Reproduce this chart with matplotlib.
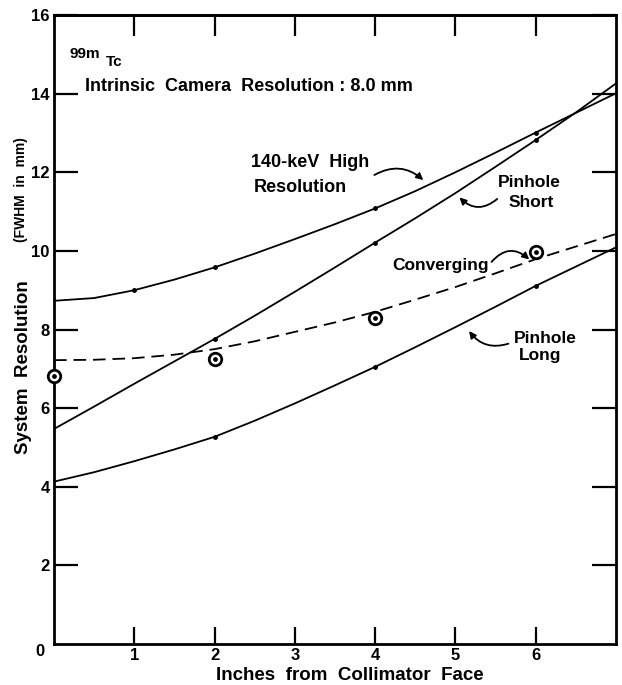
import matplotlib
matplotlib.use("Agg")
import matplotlib.pyplot as plt

# ---- data ----
x_in = [0, 0.5, 1, 1.5, 2, 2.5, 3, 3.5, 4, 4.5, 5, 5.5, 6, 6.5, 7]
high_res = [8.73, 8.80, 9.00, 9.27, 9.58, 9.93, 10.30, 10.68, 11.08, 11.52,
            12.00, 12.50, 13.01, 13.51, 14.01]
pinhole_short = [5.47, 6.04, 6.62, 7.19, 7.76, 8.35, 8.96, 9.58, 10.21, 10.83,
                 11.47, 12.14, 12.82, 13.52, 14.26]
pinhole_long = [4.13, 4.37, 4.65, 4.95, 5.27, 5.68, 6.12, 6.58, 7.05, 7.55,
                8.06, 8.58, 9.11, 9.60, 10.09]
converging = [7.22, 7.23, 7.27, 7.36, 7.50, 7.70, 7.94, 8.18, 8.45, 8.76,
              9.08, 9.43, 9.79, 10.11, 10.43]
conv_meas_x = [0, 2, 4, 6]
conv_meas_y = [6.82, 7.24, 8.30, 9.98]
xticks = [1, 2, 3, 4, 5, 6]
yticks = [2, 4, 6, 8, 10, 12, 14, 16]

FONT = ["Liberation Sans", "DejaVu Sans"]
plt.rcParams["font.family"] = FONT
plt.rcParams["font.weight"] = "bold"

W, H = 622, 685
fig = plt.figure(figsize=(W / 100, H / 100), dpi=100)
ax = fig.add_axes([54 / W, 41 / H, (616 - 54) / W, (644 - 15) / H])
ax.set_xlim(0, 7.0)
ax.set_ylim(0, 16)

lw = 1.3
ax.plot(x_in, high_res, color="black", lw=lw, marker="o", ms=2.5,
        markevery=[2, 4, 8, 12])
ax.plot(x_in, pinhole_short, color="black", lw=lw, marker="o", ms=2.5,
        markevery=[4, 8, 12])
ax.plot(x_in, pinhole_long, color="black", lw=lw, marker="o", ms=2.5,
        markevery=[4, 8, 12])
ax.plot(x_in, converging, color="black", lw=lw, linestyle=(0, (7, 3.8)))
ax.plot(conv_meas_x, conv_meas_y, linestyle="none", marker="o", ms=9,
        mfc="white", mec="black", mew=2.0, clip_on=False, zorder=5)
ax.plot(conv_meas_x, conv_meas_y, linestyle="none", marker="o", ms=2.4,
        color="black", clip_on=False, zorder=6)

for s in ax.spines.values():
    s.set_linewidth(2.0)

ax.set_xticks(xticks)
ax.set_xticklabels([str(t) for t in xticks])
ax.set_yticks(yticks)
ax.set_yticklabels([str(t) for t in yticks])
ax.tick_params(axis="y", direction="in", length=17, width=1.6, left=True,
               right=True, labelsize=12, pad=3)
ax.tick_params(axis="x", direction="in", length=12, width=1.6, bottom=True,
               top=False, labelsize=12, pad=3)
# top ticks (longer)
sec = ax.secondary_xaxis("top")
sec.set_xticks(xticks)
sec.set_xticklabels([])
sec.tick_params(direction="in", length=15, width=1.6)
sec.spines["top"].set_linewidth(2.0)
for lab in ax.get_xticklabels() + ax.get_yticklabels():
    lab.set_fontweight("bold")

fig.text(40 / W, 1 - 652 / H, "0", ha="center", va="center",
         fontsize=12, fontweight="bold")

# axis labels
fig.text(350 / W, 1 - 675 / H, "Inches  from  Collimator  Face",
         ha="center", va="center", fontsize=13.5, fontweight="bold")
fig.text(24 / W, 1 - 367 / H, "System  Resolution", rotation=90,
         ha="center", va="center", fontsize=13.5, fontweight="bold")
fig.text(21 / W, 1 - 190 / H, "(FWHM  in  mm)", rotation=90,
         ha="center", va="center", fontsize=10, fontweight="bold")

# annotations
ax.text(0.19, 15.0, "99m", fontsize=11, fontweight="bold", ha="left",
        va="center")
ax.text(0.64, 14.8, "Tc", fontsize=11, fontweight="bold", ha="left",
        va="center")
ax.text(0.39, 14.17, "Intrinsic  Camera  Resolution : 8.0 mm", fontsize=13,
        fontweight="bold", ha="left", va="center")
ax.text(2.45, 12.24, "140-keV  High", fontsize=13, fontweight="bold",
        ha="left", va="center")
ax.text(2.49, 11.6, "Resolution", fontsize=13, fontweight="bold",
        ha="left", va="center")
ax.text(5.92, 11.75, "Pinhole", fontsize=12.5, fontweight="bold",
        ha="center", va="center")
ax.text(5.94, 11.22, "Short", fontsize=12.5, fontweight="bold",
        ha="center", va="center")
ax.text(4.82, 9.62, "Converging", fontsize=12.5, fontweight="bold",
        ha="center", va="center")
ax.text(6.12, 7.78, "Pinhole", fontsize=12.5, fontweight="bold",
        ha="center", va="center")
ax.text(6.05, 7.33, "Long", fontsize=12.5, fontweight="bold",
        ha="center", va="center")

arrow = dict(arrowstyle="-|>", color="black", lw=1.3,
             mutation_scale=10, shrinkA=0, shrinkB=0)
ax.annotate("", xy=(4.6, 11.8), xytext=(3.99, 11.93),
            arrowprops=dict(connectionstyle="arc3,rad=-0.35", **arrow))
ax.annotate("", xy=(5.05, 11.36), xytext=(5.52, 11.32),
            arrowprops=dict(connectionstyle="arc3,rad=-0.45", **arrow))
ax.annotate("", xy=(5.92, 9.78), xytext=(5.45, 9.72),
            arrowprops=dict(connectionstyle="arc3,rad=-0.5", **arrow))
ax.annotate("", xy=(5.17, 7.96), xytext=(5.66, 7.64),
            arrowprops=dict(connectionstyle="arc3,rad=-0.35", **arrow))

fig.savefig("out.png", dpi=100)
